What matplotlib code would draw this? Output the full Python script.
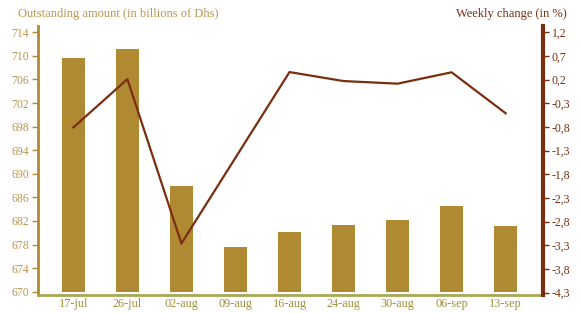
import matplotlib
matplotlib.use("Agg")
import matplotlib.pyplot as plt
import numpy as np

categories = ["17-jul", "26-jul", "02-aug", "09-aug", "16-aug", "24-aug", "30-aug", "06-sep", "13-sep"]
outstanding = [709.6, 711.1, 687.9, 677.6, 680.2, 681.3, 682.1, 684.5, 681.1]
weekly_change = [-0.81, 0.21, -3.26, -1.45, 0.36, 0.17, 0.115, 0.355, -0.51]
left_ticks = [670, 674, 678, 682, 686, 690, 694, 698, 702, 706, 710, 714]
right_ticks = [-4.3, -3.8, -3.3, -2.8, -2.3, -1.8, -1.3, -0.8, -0.3, 0.2, 0.7, 1.2]

gold = "#B08A33"
gold_txt = "#B8974E"
olive = "#A8A853"
xlab = "#A0903A"
brown = "#7A2E10"

plt.rcParams['font.family'] = ['Liberation Serif', 'DejaVu Serif']

fig = plt.figure(figsize=(5.8, 3.13), dpi=100)
ax = fig.add_axes([0.065, 18 / 313, 0.872, 269 / 313])
x = np.arange(len(categories))
ax.bar(x, [v - 670 for v in outstanding], bottom=670, width=0.415, color=gold, zorder=2)
ax.set_ylim(669.44, 715.07)
ax.set_xlim(-0.66, 8.7)
ax.set_yticks(left_ticks)
ax.set_yticklabels([str(t) for t in left_ticks])
ax.set_xticks(x)
ax.set_xticklabels(categories)
ax.tick_params(axis='y', colors=gold, labelcolor=gold_txt, labelsize=8.5, length=4, width=1, pad=2)
ax.tick_params(axis='x', length=0, labelcolor=xlab, labelsize=8.8, pad=2)
for s in ["top", "right"]:
    ax.spines[s].set_visible(False)
ax.spines["left"].set_color(gold)
ax.spines["left"].set_linewidth(2)
ax.spines["bottom"].set_color(olive)
ax.spines["bottom"].set_linewidth(2)

ax2 = ax.twinx()
ax2.plot(x, weekly_change, color=brown, linewidth=1.6, zorder=3)
ax2.set_ylim(-4.349, 1.333)
ax2.set_yticks(right_ticks)
ax2.set_yticklabels([f"{t:.1f}".replace(".", ",") for t in right_ticks])
ax2.tick_params(axis='y', colors=brown, labelcolor=brown, labelsize=8.5, length=4, width=1, pad=2)
for s in ["top", "left", "bottom"]:
    ax2.spines[s].set_visible(False)
ax2.spines["right"].set_color(brown)
ax2.spines["right"].set_linewidth(3)

fig.text(18 / 580, 1 - 14 / 313, "Outstanding amount (in billions of Dhs)", color=gold_txt,
         fontsize=9, ha='left', va='center')
fig.text(567 / 580, 1 - 14 / 313, "Weekly change (in %)", color=brown,
         fontsize=9, ha='right', va='center')

fig.savefig("out.png", dpi=100)
